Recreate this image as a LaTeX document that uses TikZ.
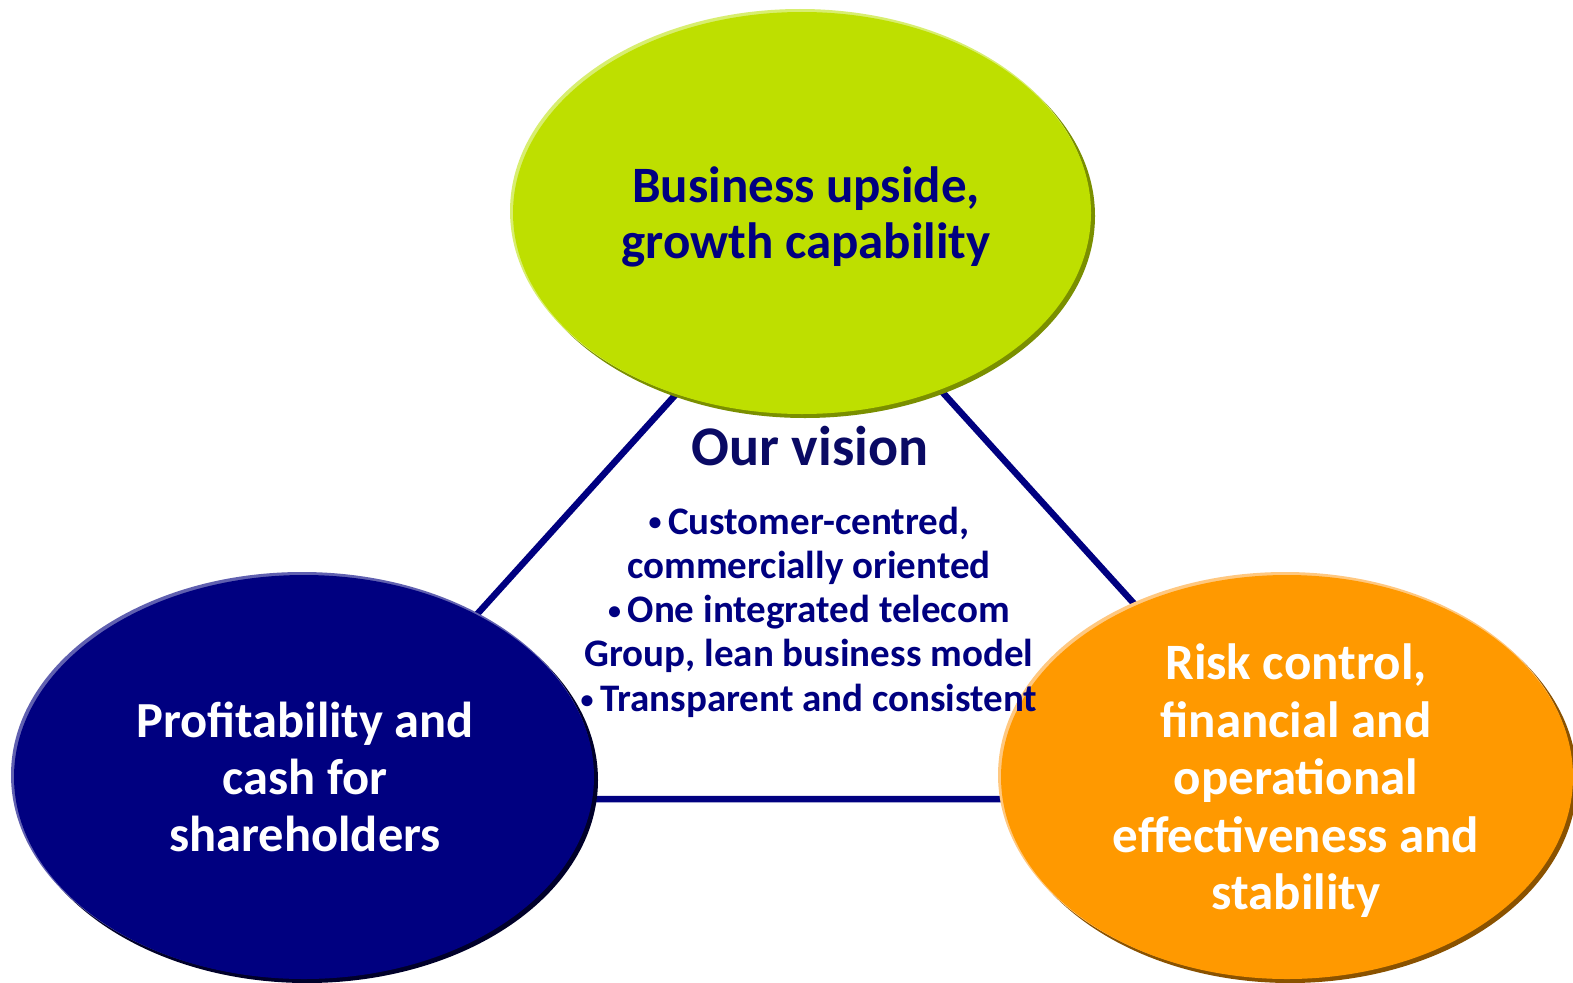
\documentclass[tikz,border=0pt]{standalone}
\usepackage{fontspec}
\setmainfont{Carlito}
\usetikzlibrary{shapes.geometric}
\definecolor{navy}{HTML}{000080}
\definecolor{darknavy}{HTML}{0A0A64}
\definecolor{limegreen}{HTML}{BEDF00}
\definecolor{limedark}{HTML}{7A8F00}
\definecolor{limelight}{HTML}{D8EE70}
\definecolor{navylight}{HTML}{6060B0}
\definecolor{navydark}{HTML}{00002A}
\definecolor{orangefill}{HTML}{FF9900}
\definecolor{orangedark}{HTML}{8A5200}
\definecolor{orangelight}{HTML}{FFC880}
\newcommand{\smallbul}{{\fontsize{26}{0}\selectfont\raisebox{0.12em}{•}}\,}
\tikzset{
  blob/.style={ellipse, inner sep=0pt},
  blobtext/.style={inner sep=0pt, align=center},
  edge/.style={draw=navy, line width=6.5pt},
}
\begin{document}
\begin{tikzpicture}[x=1pt,y=-1pt]
\useasboundingbox (0,0) rectangle (1573,982);
\fill[white] (0,0) rectangle (1573,982);
% triangle connectors
\coordinate (vt) at (810,246);
\coordinate (vl) at (310,799);
\coordinate (vr) at (1311,799);
\draw[edge] (vt) -- (vl) -- (vr) -- cycle;
% top ellipse
\fill[limedark] (805,216) ellipse [x radius=290, y radius=202];
\fill[limelight] (800,211) ellipse [x radius=290, y radius=202];
\node[blob, fill=limegreen, minimum width=578pt, minimum height=402pt] (top) at (802,213) {};
\node[blobtext, text=navy, font=\bfseries\fontsize{51}{56}\selectfont] (toptext) at (806,217)
  {Business upside,\\growth capability};
% left ellipse
\fill[navydark] (307,780) ellipse [x radius=291, y radius=203];
\fill[navylight] (302,775) ellipse [x radius=291, y radius=203];
\node[blob, fill=navy, minimum width=580pt, minimum height=404pt] (left) at (304,777) {};
\node[blobtext, text=white, font=\bfseries\fontsize{50.5}{57}\selectfont] (lefttext) at (305,777)
  {Profitability and\\cash for\\shareholders};
% right ellipse
\fill[orangedark] (1290,780) ellipse [x radius=287, y radius=203];
\fill[orangelight] (1285,775) ellipse [x radius=287, y radius=203];
\node[blob, fill=orangefill, minimum width=572pt, minimum height=404pt] (right) at (1287,777) {};
\node[blobtext, text=white, font=\bfseries\fontsize{51}{57.5}\selectfont] (righttext) at (1296,781)
  {Risk control,\\financial and\\operational\\effectiveness and\\stability};
% centre text
\node[text=darknavy, font=\bfseries\fontsize{56}{60}\selectfont, inner sep=0pt] (vision) at (810,446) {Our vision};
\node[text=navy, align=center, inner sep=0pt, font=\bfseries\fontsize{39}{44.3}\selectfont] (points) at (809,612)
  {\smallbul Customer-centred,\\commercially oriented\\\smallbul One integrated telecom\\Group, lean business model\\\smallbul Transparent and consistent};
\end{tikzpicture}
\end{document}
